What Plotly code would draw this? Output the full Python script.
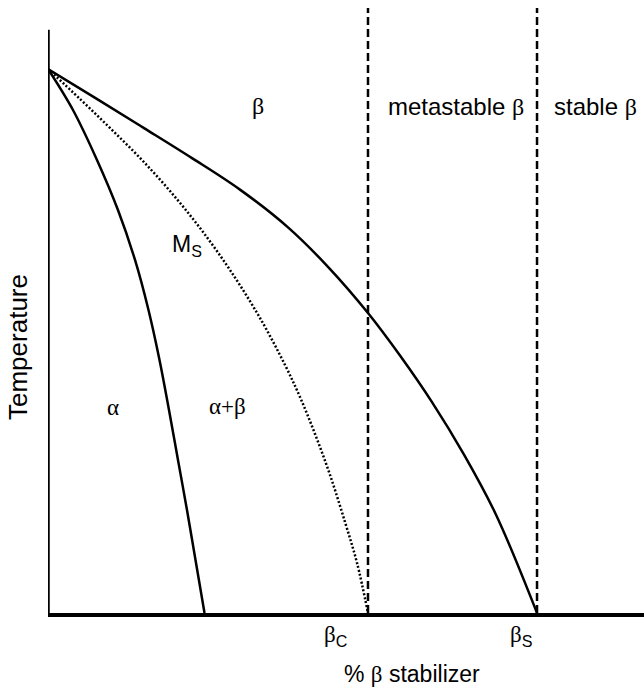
import plotly.graph_objects as go

# ---- data (x: % beta stabilizer, y: temperature; arbitrary units 0-100) ----
alpha_x = [0, 4.19, 8.22, 11.74, 14.60, 16.86, 18.71, 20.30, 21.81, 23.32, 24.75, 26.26]
alpha_y = [89.92, 83.14, 74.88, 66.61, 58.35, 50.08, 41.82, 33.55, 25.29, 17.02, 8.76, 0]

ms_x = [0, 5.37, 10.40, 15.44, 20.47, 25.50, 30.54, 35.57, 39.77, 42.28, 44.80, 47.32, 49.83, 51.85, 53.69]
ms_y = [89.92, 84.96, 80.17, 75.21, 69.75, 63.64, 56.69, 48.76, 40.99, 35.70, 29.59, 22.81, 15.04, 8.26, 0]

transus_x = [0, 8.05, 16.11, 24.16, 32.21, 40.27, 46.98, 53.69, 59.06, 64.43, 69.80, 75.17, 82.05]
transus_y = [89.92, 85.06, 80.15, 75.19, 69.98, 63.74, 57.22, 49.59, 42.56, 34.86, 26.18, 16.25, 0]

beta_c = 53.69
beta_s = 82.05
y_top = 100
y_axis_top = 96.4

SERIF = "Liberation Serif, Times New Roman, serif"
SANS = "Liberation Sans, Arial, sans-serif"


def g(s):
    return f'<span style="font-family:{SERIF}">{s}</span>'


fig = go.Figure()

curve = dict(color="black", width=2.5, shape="spline", smoothing=1.0)
fig.add_trace(go.Scatter(x=alpha_x, y=alpha_y, mode="lines", line=curve, hoverinfo="skip"))
fig.add_trace(go.Scatter(x=ms_x, y=ms_y, mode="lines", line=dict(curve, dash="2px,2px"), hoverinfo="skip"))
fig.add_trace(go.Scatter(x=transus_x, y=transus_y, mode="lines", line=curve, hoverinfo="skip"))

for bx in (beta_c, beta_s):
    fig.add_trace(go.Scatter(x=[bx, bx], y=[0, y_top], mode="lines",
                             line=dict(color="black", width=2.5, dash="8px,4px"), hoverinfo="skip"))

# left axis line (ends below the top of the plot area)
fig.add_trace(go.Scatter(x=[0, 0], y=[0, y_axis_top], mode="lines",
                         line=dict(color="black", width=3.5), hoverinfo="skip"))


def font(sz):
    return dict(family=SANS, size=sz, color="black")


labels = [
    (35.2, 0.838, g("β"), 24),
    (68.5, 0.838, "metastable " + g("β"), 24),
    (91.9, 0.838, "stable " + g("β"), 24),
    (23.3, 0.607, "M<sub>S</sub>", 23),
    (10.9, 0.339, g("α"), 23),
    (30.2, 0.342, g("α+β"), 23),
    (48.3, -0.038, g("β") + "<sub>C</sub>", 23),
    (79.4, -0.038, g("β") + "<sub>S</sub>", 23),
    (61.1, -0.100, "% " + g("β") + " stabilizer", 23),
]
for x, y, t, sz in labels:
    fig.add_annotation(x=x, y=y, text=t, showarrow=False, xref="x", yref="paper",
                       xanchor="center", yanchor="middle", font=font(sz))

fig.add_annotation(x=(18 - 48) / 596, xref="paper", y=(613 - 347) / 605, yref="paper",
                   xanchor="center", yanchor="middle",
                   text="Temperature", textangle=-90, showarrow=False, font=font(26))

fig.update_xaxes(range=[0, 100], showgrid=False, zeroline=False, showticklabels=False, ticks="",
                 showline=True, linecolor="black", linewidth=3.5)
fig.update_yaxes(range=[0, 100], showgrid=False, zeroline=False, showticklabels=False, ticks="",
                 showline=False)
fig.update_layout(width=644, height=689, margin=dict(l=48, r=0, t=8, b=76),
                  plot_bgcolor="white", paper_bgcolor="white", showlegend=False)

fig.write_html("out.html", config={"displayModeBar": False},
               post_script="document.body.style.margin='0';document.body.style.padding='0';"
                           "document.body.style.overflow='hidden';")
